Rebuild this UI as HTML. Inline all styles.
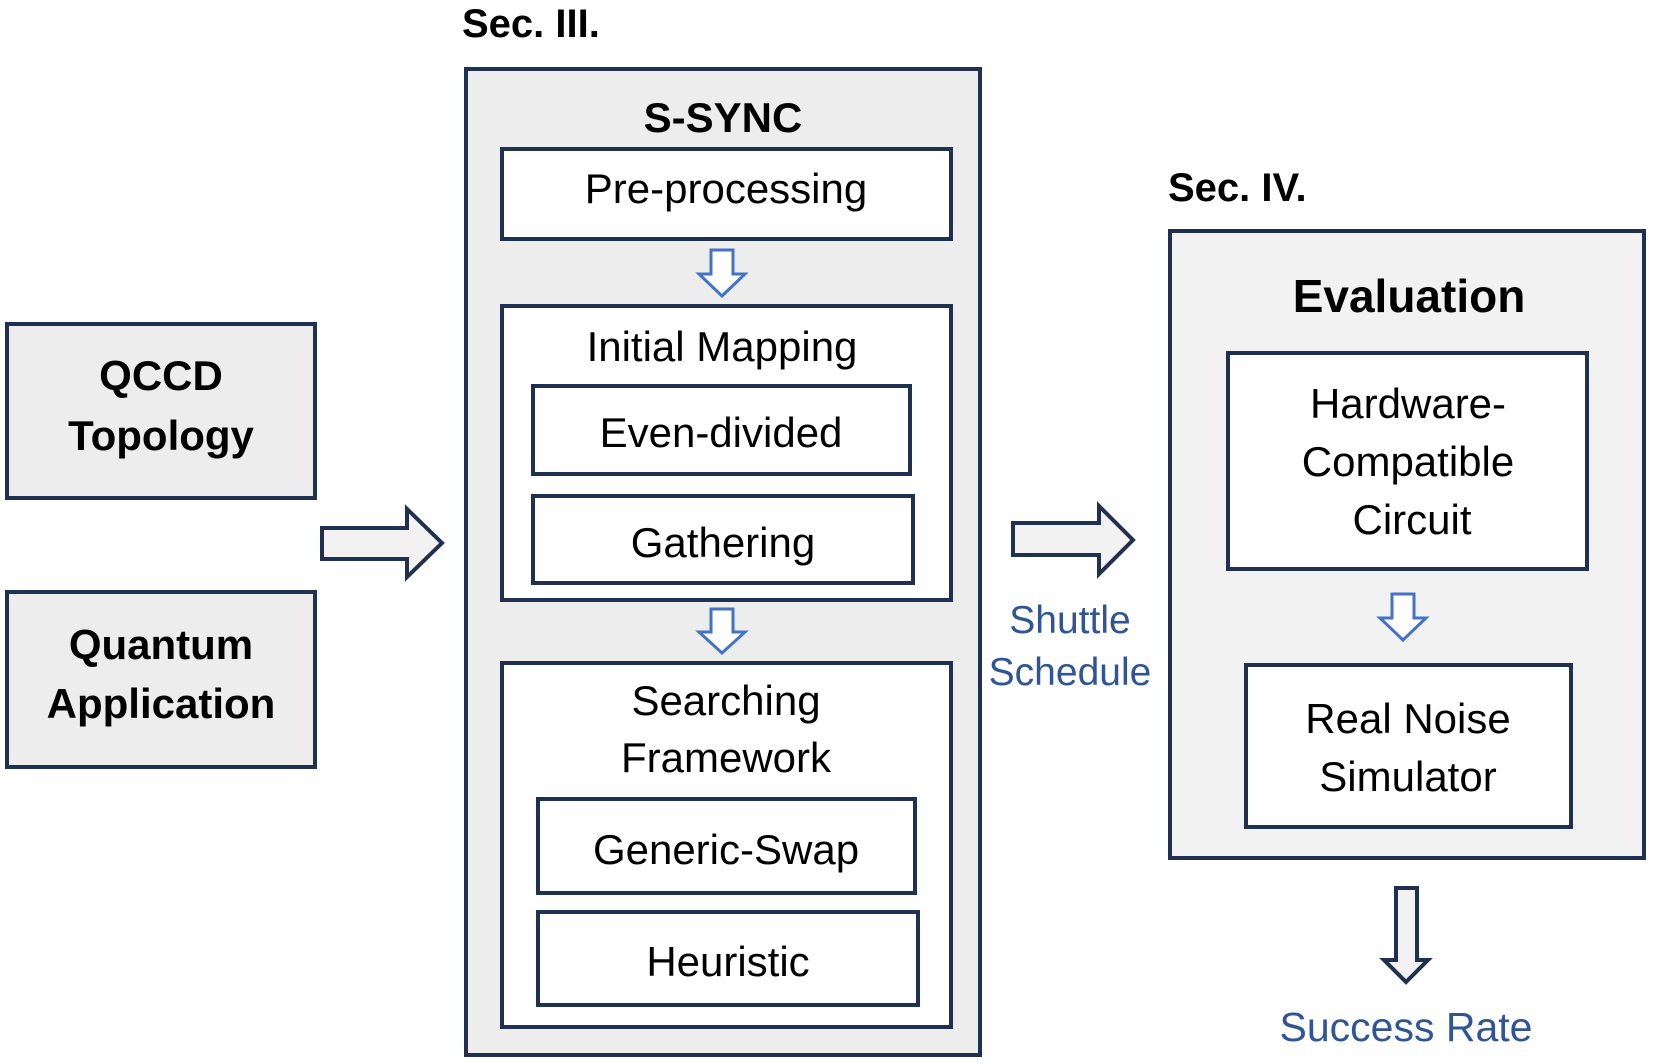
<!DOCTYPE html>
<html><head><meta charset="utf-8"><style>
html,body{margin:0;padding:0;background:#fff;}
svg{display:block;}
text{font-family:"Liberation Sans",sans-serif;}
</style></head><body>
<svg width="1658" height="1064" viewBox="0 0 1658 1064" xmlns="http://www.w3.org/2000/svg">
<g stroke="#1F3050" stroke-width="4">
<rect x="7" y="324" width="308" height="174" fill="#EDEDED"/>
<rect x="7" y="592" width="308" height="175" fill="#EDEDED"/>
<rect x="466" y="69" width="514" height="986" fill="#EDEDED"/>
<rect x="502" y="149" width="449" height="90" fill="#fff"/>
<rect x="502" y="306" width="449" height="294" fill="#fff"/>
<rect x="533" y="386" width="377" height="88" fill="#fff"/>
<rect x="533" y="496" width="380" height="87" fill="#fff"/>
<rect x="502" y="663" width="449" height="364" fill="#fff"/>
<rect x="538" y="799" width="377" height="94" fill="#fff"/>
<rect x="538" y="912" width="380" height="93" fill="#fff"/>
<rect x="1170" y="231" width="474" height="627" fill="#F2F2F2"/>
<rect x="1228" y="353" width="359" height="216" fill="#fff"/>
<rect x="1246" y="665" width="325" height="162" fill="#fff"/>
<polygon points="322,528 407,528 407,509 442,543 407,577 407,559 322,559" fill="#F2F2F2"/>
<polygon points="1013,523 1099,523 1099,506 1133,540 1099,574 1099,555 1013,555" fill="#F2F2F2"/>
<polygon points="1396,888 1417,888 1417,960 1428,960 1406,982 1384,960 1396,960" fill="#F2F2F2"/>
</g>
<g stroke="#4472C4" stroke-width="3" fill="#fff">
<polygon points="711,250 733,250 733,274 745,274 722,296 699,274 711,274"/>
<polygon points="711,609 733,609 733,632 745,632 722,653 699,632 711,632"/>
<polygon points="1392,594 1414,594 1414,618 1426,618 1403,640 1380,618 1392,618"/>
</g>
<g font-size="42" fill="#000" text-anchor="middle">
<text x="161" y="390" font-weight="bold">QCCD</text>
<text x="161" y="450" font-weight="bold">Topology</text>
<text x="161" y="659" font-weight="bold">Quantum</text>
<text x="161" y="718" font-weight="bold">Application</text>
<text x="723" y="132" font-weight="bold">S-SYNC</text>
<text x="726" y="203">Pre-processing</text>
<text x="722" y="361">Initial Mapping</text>
<text x="721" y="447">Even-divided</text>
<text x="723" y="557">Gathering</text>
<text x="726" y="715">Searching</text>
<text x="726" y="772">Framework</text>
<text x="726" y="864">Generic-Swap</text>
<text x="728" y="976">Heuristic</text>
<text x="1409" y="312" font-size="46" font-weight="bold">Evaluation</text>
<text x="1408" y="418">Hardware-</text>
<text x="1408" y="476">Compatible</text>
<text x="1412" y="534">Circuit</text>
<text x="1408" y="733">Real Noise</text>
<text x="1408" y="791">Simulator</text>
</g>
<text x="462" y="37" font-size="40" font-weight="bold">Sec. III.</text>
<text x="1168" y="201" font-size="40" font-weight="bold">Sec. IV.</text>
<g fill="#2F5597" text-anchor="middle" font-size="39">
<text x="1070" y="633">Shuttle</text>
<text x="1070" y="685">Schedule</text>
<text x="1406" y="1041" font-size="41">Success Rate</text>
</g>
</svg>
</body></html>
